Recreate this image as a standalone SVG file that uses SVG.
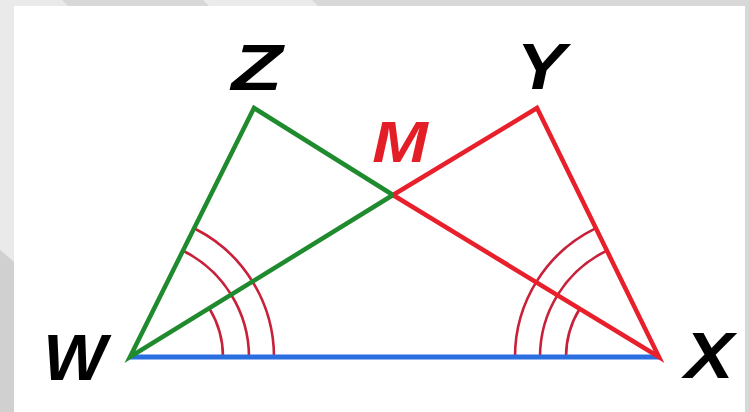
<svg xmlns="http://www.w3.org/2000/svg" width="749" height="412" viewBox="0 0 749 412">
<style>
.lbl{font-family:"Liberation Sans",Arial,sans-serif;font-weight:bold;font-style:italic;font-size:64px}
.g{stroke:#1f8a2e;stroke-width:4.5;fill:none;stroke-linejoin:miter}
.r{stroke:#e8202c;stroke-width:4.5;fill:none;stroke-linejoin:miter}
.b{stroke:#2a6ee0;stroke-width:5;fill:none}
.arc{stroke:#c9203a;stroke-width:2.6;fill:none}
</style>
<g id="background">
<rect x="0" y="0" width="749" height="412" fill="#d8d8d8"/>
<polygon points="0,0 62,0 68,6 14,6 14,262 0,250" fill="#eaeaea"/>
<polygon points="203,0 312,0 318,6 209,6" fill="#ebebeb"/>
<polygon points="0,250 14,262 14,412 0,412" fill="#d0d0d0"/>
<rect x="14" y="6" width="731" height="406" fill="#ffffff"/>
</g>
<g id="angle-marks">
<path class="arc" d="M223,357 A93,93 0 0 0 209.3,308.4"/>
<path class="arc" d="M249,357 A119,119 0 0 0 184.5,251.5"/>
<path class="arc" d="M274,357 A144,144 0 0 0 195.5,229"/>
<path class="arc" d="M566,357 A92,92 0 0 1 579.7,308.7"/>
<path class="arc" d="M540,357 A118,118 0 0 1 606.4,250.9"/>
<path class="arc" d="M515,357 A143,143 0 0 1 595.5,228.4"/>
</g>
<g id="connectors">
<line class="b" x1="130" y1="357" x2="659" y2="357"/>
<polyline class="r" points="393,195 537,108 659,357 393,195"/>
<polyline class="g" points="393,195 254,108 130,357 393,195"/>
</g>
<g id="node-Z"><text class="lbl" x="257" y="90" text-anchor="middle" transform="translate(257 0) scale(1.3 1) translate(-257 0)">Z</text></g>
<g id="node-Y"><text class="lbl" x="541" y="89" text-anchor="middle" transform="translate(541 0) scale(1.15 1) translate(-541 0)">Y</text></g>
<g id="node-W"><text class="lbl" x="75" y="380" text-anchor="middle" transform="translate(75 0) scale(1.05 1) translate(-75 0)">W</text></g>
<g id="node-X"><text class="lbl" x="709" y="378" text-anchor="middle" transform="translate(709 0) scale(1.15 1) translate(-709 0)">X</text></g>
<g id="node-M"><text class="lbl" x="400" y="162" text-anchor="middle" fill="#e41e26" style="font-size:58px" transform="translate(400 0) scale(1.15 1) translate(-400 0)">M</text></g>
</svg>
